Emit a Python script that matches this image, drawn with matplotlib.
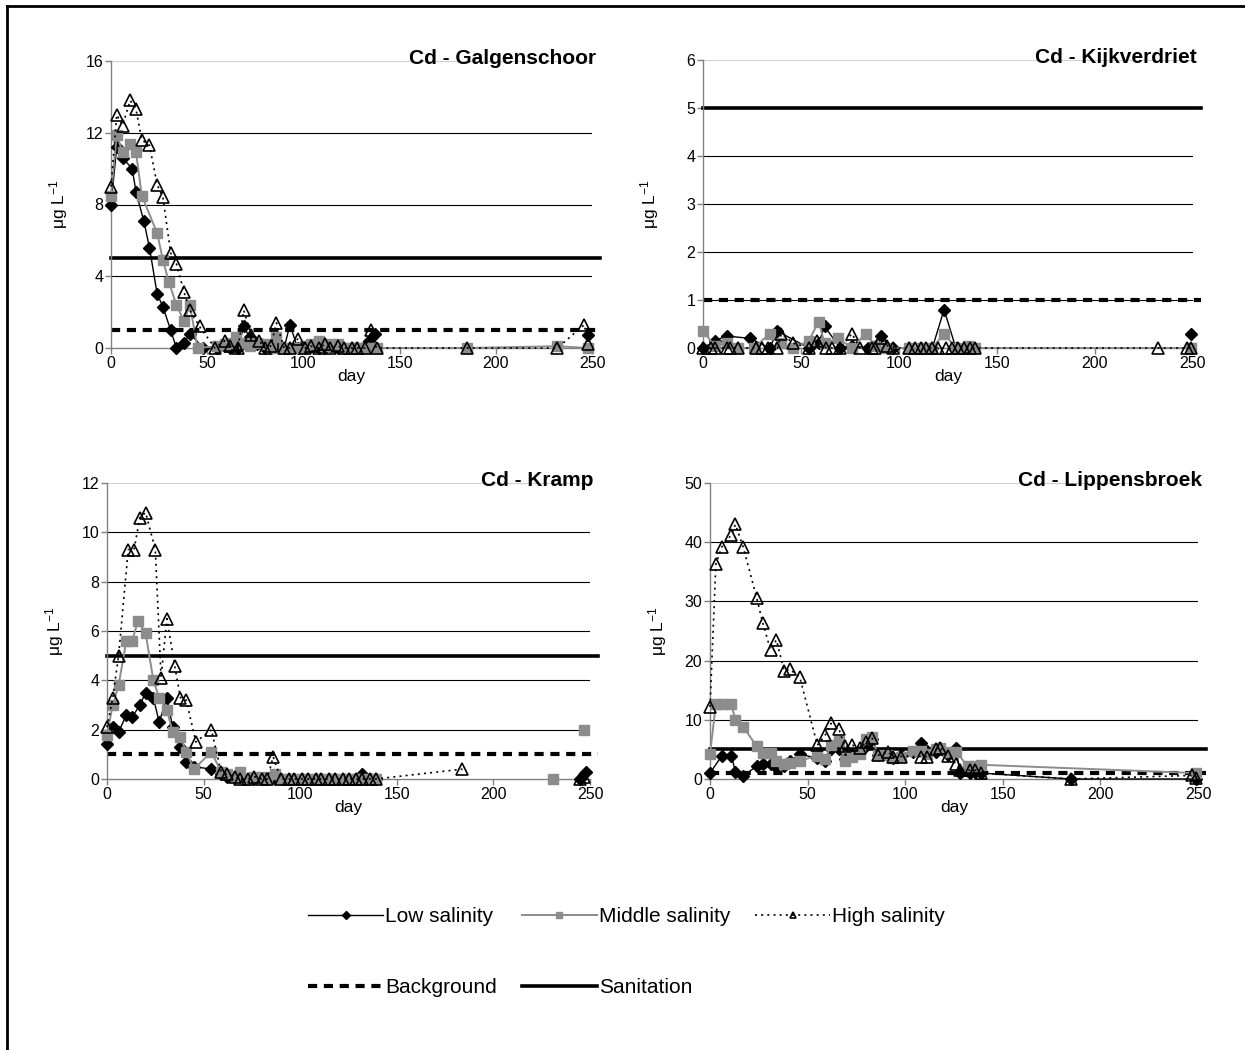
import matplotlib
matplotlib.use('Agg')
import matplotlib.pyplot as plt
from matplotlib.lines import Line2D

plt.rcParams['font.family'] = ['Liberation Sans', 'DejaVu Sans']
plt.rcParams['mathtext.default'] = 'regular'

nan = float('nan')   # gap in a series (no line drawn across it)

# ---- Cd concentrations (ug/L) per site, three salinity treatments ----
g_low_day = [0, 3, 6, 11, 13, 17, 20, 24, 27, 31, 34, 38, 41, 48, 55, 59, 62, 66, 69, 72, 76, 80, 83,
             87, 90, 93, 97, 101, 104, 108, 111, 114, 118, 121, 125, 128, 131, 134, 137, 200, 248]
g_low = [8.0, 11.2, 10.6, 10.0, 8.7, 7.1, 5.6, 3.0, 2.3, 1.0, 0.0, 0.3, 0.8, 0.0, 0.0, 0.1, 0.0, 0.0,
         1.2, 0.6, 0.2, 0.0, 0.0, 0.1, 0.0, 1.3, 0.0, 0.0, 0.1, 0.0, 0.0, 0.1, 0.0, 0.0, 0.0, 0.0,
         0.0, 0.4, 0.8, nan, 0.7]
g_mid_day = [0, 3, 6, 10, 13, 16, 24, 27, 30, 34, 38, 41, 45, 55, 59, 62, 65, 69, 72, 76, 80, 83, 86,
             90, 93, 97, 101, 104, 108, 111, 114, 118, 121, 125, 128, 132, 135, 138, 185, 232, 248]
g_mid = [8.5, 11.9, 10.9, 11.4, 10.9, 8.5, 6.4, 4.9, 3.7, 2.4, 1.5, 2.4, 0.0, 0.1, 0.2, 0.3, 0.6, 0.3,
         0.1, 0.3, 0.2, 0.0, 0.6, 0.0, 0.0, 0.0, 0.1, 0.2, 0.4, 0.1, 0.2, 0.2, 0.0, 0.0, 0.0, 0.0,
         0.0, 0.0, 0.0, 0.1, 0.0]
g_high_day = [0, 3, 6, 10, 13, 16, 20, 24, 27, 31, 34, 38, 41, 46, 54, 59, 62, 66, 69, 73, 77, 80, 83,
              86, 90, 93, 97, 101, 104, 108, 111, 114, 118, 121, 125, 128, 132, 135, 138, 185, 232, 246, 248]
g_high = [9.0, 13.0, 12.4, 13.8, 13.3, 11.6, 11.3, 9.1, 8.4, 5.3, 4.7, 3.1, 2.1, 1.2, 0.0, 0.4, 0.1,
          0.0, 2.1, 0.7, 0.4, 0.0, 0.1, 1.4, 0.0, 0.0, 0.5, 0.0, 0.1, 0.0, 0.2, 0.0, 0.1, 0.0, 0.0,
          0.0, 0.0, 1.0, 0.0, 0.0, 0.0, 1.3, 0.2]

k_low_day = [0, 6, 12, 24, 34, 38, 54, 59, 62, 70, 76, 84, 91, 97, 105, 111, 117, 123, 129, 135, 200, 249]
k_low = [0.0, 0.15, 0.25, 0.2, 0.0, 0.35, 0.0, 0.1, 0.45, 0.0, 0.05, 0.0, 0.25, 0.0, 0.0, 0.0, 0.0,
         0.8, 0.0, 0.0, nan, 0.3]
k_mid_day = [0, 6, 12, 18, 26, 34, 40, 46, 54, 59, 62, 69, 76, 83, 88, 94, 105, 111, 117, 123, 129,
             135, 139, 249]
k_mid = [0.35, 0.05, 0.1, 0.0, 0.0, 0.3, 0.1, 0.0, 0.15, 0.55, 0.1, 0.2, 0.0, 0.3, 0.05, 0.0, 0.0,
         0.0, 0.0, 0.3, 0.0, 0.05, 0.0, 0.0]
k_high_day = [0, 4, 6, 12, 14, 18, 27, 30, 33, 38, 40, 46, 54, 58, 63, 66, 70, 76, 80, 86, 88, 91, 94,
              97, 105, 108, 111, 114, 117, 120, 124, 127, 130, 133, 136, 139, 232, 247, 249]
k_high = [0.0, 0.0, 0.0, 0.0, 0.0, 0.0, 0.0, 0.0, 0.0, 0.0, 0.3, 0.1, 0.0, 0.15, 0.0, 0.0, 0.0, 0.3,
          0.0, 0.0, 0.0, 0.2, 0.05, 0.0, 0.0, 0.0, 0.0, 0.0, 0.0, 0.0, 0.0, 0.0, 0.0, 0.0, 0.0, 0.0,
          0.0, 0.0, 0.0]

r_low_day = [0, 3, 6, 10, 13, 17, 20, 24, 27, 31, 34, 38, 41, 45, 54, 59, 62, 66, 69, 73, 76, 80, 83,
             87, 90, 94, 97, 101, 104, 108, 111, 115, 118, 122, 125, 129, 132, 136, 139, 200, 245, 248]
r_low = [1.4, 2.1, 1.9, 2.6, 2.5, 3.0, 3.5, 3.3, 2.3, 3.3, 2.1, 1.3, 0.7, 0.5, 0.4, 0.2, 0.1, 0.1,
         0.1, 0.0, 0.0, 0.0, 0.0, 0.0, 0.0, 0.0, 0.0, 0.0, 0.0, 0.0, 0.0, 0.0, 0.0, 0.0, 0.0, 0.0,
         0.2, 0.0, 0.0, nan, 0.0, 0.3]
r_mid_day = [0, 3, 6, 10, 13, 16, 20, 24, 27, 31, 34, 38, 41, 45, 54, 59, 62, 66, 69, 73, 76, 80, 83,
             87, 90, 94, 97, 101, 104, 108, 111, 115, 118, 122, 125, 129, 132, 136, 139, 190, 231, 240, 247]
r_mid = [1.8, 3.0, 3.8, 5.6, 5.6, 6.4, 5.9, 4.0, 3.3, 2.8, 1.9, 1.7, 1.1, 0.4, 1.1, 0.3, 0.2, 0.1,
         0.3, 0.0, 0.1, 0.1, 0.0, 0.2, 0.0, 0.0, 0.0, 0.0, 0.0, 0.0, 0.0, 0.0, 0.0, 0.0, 0.0, 0.0,
         0.0, 0.0, 0.0, nan, 0.0, nan, 2.0]
r_high_day = [0, 3, 6, 11, 14, 17, 20, 25, 28, 31, 35, 38, 41, 46, 54, 59, 62, 66, 69, 73, 76, 80, 83,
              86, 90, 94, 97, 101, 104, 108, 111, 115, 118, 122, 125, 129, 132, 136, 139, 184, 220, 245, 247]
r_high = [2.1, 3.3, 5.0, 9.3, 9.3, 10.6, 10.8, 9.3, 4.1, 6.5, 4.6, 3.3, 3.2, 1.5, 2.0, 0.3, 0.2, 0.1,
          0.0, 0.0, 0.1, 0.0, 0.0, 0.9, 0.0, 0.0, 0.0, 0.0, 0.0, 0.0, 0.0, 0.0, 0.0, 0.0, 0.0, 0.0,
          0.0, 0.0, 0.0, 0.4, nan, 0.0, 0.1]

l_low_day = [0, 6, 11, 13, 17, 24, 27, 31, 34, 38, 41, 46, 55, 59, 62, 66, 69, 73, 77, 80, 83, 86, 91,
             94, 98, 104, 108, 111, 116, 118, 122, 126, 128, 133, 136, 139, 185, 249]
l_low = [1.0, 3.9, 3.9, 1.2, 0.5, 2.2, 2.6, 2.6, 2.0, 2.2, 3.0, 4.2, 3.5, 3.0, 5.0, 5.0, 3.3, 4.0,
         4.5, 5.5, 6.8, 4.0, 4.3, 3.6, 4.0, 4.6, 6.0, 4.8, 4.5, 5.3, 4.0, 5.3, 1.0, 1.0, 1.2, 1.0,
         0.0, 0.0]
l_mid_day = [0, 3, 6, 11, 13, 17, 24, 27, 31, 34, 38, 41, 46, 55, 59, 62, 66, 69, 73, 77, 80, 83, 86,
             91, 94, 98, 104, 108, 111, 116, 118, 122, 126, 132, 136, 139, 249]
l_mid = [4.2, 12.6, 12.6, 12.6, 10.0, 8.8, 5.5, 4.4, 4.4, 3.0, 2.5, 2.7, 3.1, 3.9, 3.3, 5.7, 6.4,
         3.1, 3.7, 4.3, 6.7, 7.1, 4.0, 4.0, 3.5, 3.8, 4.8, 4.8, 4.3, 5.0, 5.2, 4.6, 4.6, 2.2, 2.2,
         2.4, 1.0]
l_high_day = [0, 3, 6, 11, 13, 17, 24, 27, 31, 34, 38, 41, 46, 55, 59, 62, 66, 69, 73, 77, 80, 83, 86,
              91, 94, 98, 108, 111, 116, 118, 122, 126, 128, 133, 136, 139, 185, 247, 249]
l_high = [12.2, 36.3, 39.2, 41.3, 43.0, 39.2, 30.5, 26.4, 21.8, 23.5, 18.3, 18.5, 17.2, 5.7, 7.4,
          9.4, 8.5, 5.5, 5.7, 5.2, 6.3, 7.0, 4.0, 4.6, 3.8, 3.8, 3.8, 3.8, 5.0, 5.2, 3.9, 2.6, 1.6,
          1.5, 1.5, 1.0, 0.0, 0.6, 0.2]

# reference levels (ug/L)
ref_day = [0, 254]
background = 1
sanitation = 5

sites = ['Cd - Galgenschoor', 'Cd - Kijkverdriet', 'Cd - Kramp', 'Cd - Lippensbroek']
y_max = [16, 6, 12, 50]
y_step = [4, 1, 2, 10]
x_ticks = [0, 50, 100, 150, 200, 250]

series = [
    [(g_low_day, g_low), (g_mid_day, g_mid), (g_high_day, g_high)],
    [(k_low_day, k_low), (k_mid_day, k_mid), (k_high_day, k_high)],
    [(r_low_day, r_low), (r_mid_day, r_mid), (r_high_day, r_high)],
    [(l_low_day, l_low), (l_mid_day, l_mid), (l_high_day, l_high)],
]

W, H = 1245, 1050
# axes boxes in pixels: left, right, top, bottom
boxes = [(111, 592, 61, 348), (703, 1193, 60, 348), (107, 590, 483, 779), (710, 1198, 483, 779)]

low_kw = dict(color='black', lw=1.0, marker='D', ms=6.5, mfc='black', mec='black')
mid_kw = dict(color='#8c8c8c', lw=1.4, marker='s', ms=6.5, mfc='#8c8c8c', mec='#8c8c8c')
high_kw = dict(color='black', lw=1.2, ls=(0, (1.2, 2.5)), marker='^', ms=8, mfc='none',
               mec='black', mew=1.2)
bg_kw = dict(color='black', lw=3, ls=(0, (2.2, 1.6)))
san_kw = dict(color='black', lw=2.6)

fig = plt.figure(figsize=(W / 100, H / 100), dpi=100)

for i, (l, r, t, b) in enumerate(boxes):
    ax = fig.add_axes([l / W, 1 - b / H, (r - l) / W, (b - t) / H])
    ax.set_xlim(0, 250)
    ax.set_ylim(0, y_max[i])
    ax.set_xticks(x_ticks)
    ax.set_yticks(range(0, y_max[i] + 1, y_step[i]))
    for s in ['top', 'right']:
        ax.spines[s].set_visible(False)
    for s in ['left', 'bottom']:
        ax.spines[s].set_color('#808080')
        ax.spines[s].set_linewidth(1.0)
    ax.tick_params(direction='out', length=4, width=1, color='#808080', labelsize=11.5, pad=1.5)
    ax.yaxis.grid(True, color='black', lw=0.8)
    gl = ax.yaxis.get_gridlines()
    gl[0].set_visible(False)
    gl[-1].set_color('#d0d0d0')
    ax.set_axisbelow(True)

    ax.plot(ref_day, [background, background], clip_on=False, zorder=2, **bg_kw)
    ax.plot(ref_day, [sanitation, sanitation], clip_on=False, zorder=2, **san_kw)

    (d1, v1), (d2, v2), (d3, v3) = series[i]
    ax.plot(d1, v1, clip_on=False, zorder=3, **low_kw)
    ax.plot(d2, v2, clip_on=False, zorder=4, **mid_kw)
    ax.plot(d3, v3, clip_on=False, zorder=5, **high_kw)

    ax.text(1.008, 1.01, sites[i], transform=ax.transAxes, ha='right', va='center',
            fontsize=15, fontweight='bold')
    ax.set_xlabel('day', fontsize=12.5, labelpad=-1)
    ax.set_ylabel('\u03bcg L$^{-1}$', fontsize=12.5)
    ax.yaxis.set_label_coords(-0.085, 0.5)

# legend (two rows)
handles = [Line2D([], [], **low_kw), Line2D([], [], **bg_kw), Line2D([], [], **mid_kw),
           Line2D([], [], **san_kw), Line2D([], [], **high_kw)]
labels = ['Low salinity', 'Background', 'Middle salinity', 'Sanitation', 'High salinity']
fig.legend(handles, labels, ncol=3, loc='upper left', bbox_to_anchor=(308 / W, 1 - 907 / H),
           frameon=False, fontsize=15, handlelength=3.6, handletextpad=0.1, columnspacing=1.2,
           labelspacing=2.5, markerscale=0.6, borderpad=0, borderaxespad=0)

# outer frame
fig.add_artist(Line2D([7 / W, 7 / W], [0, 1 - 6 / H], color='black', lw=2))
fig.add_artist(Line2D([7 / W, 1], [1 - 6 / H, 1 - 6 / H], color='black', lw=2))

fig.savefig('out.png', dpi=100)
